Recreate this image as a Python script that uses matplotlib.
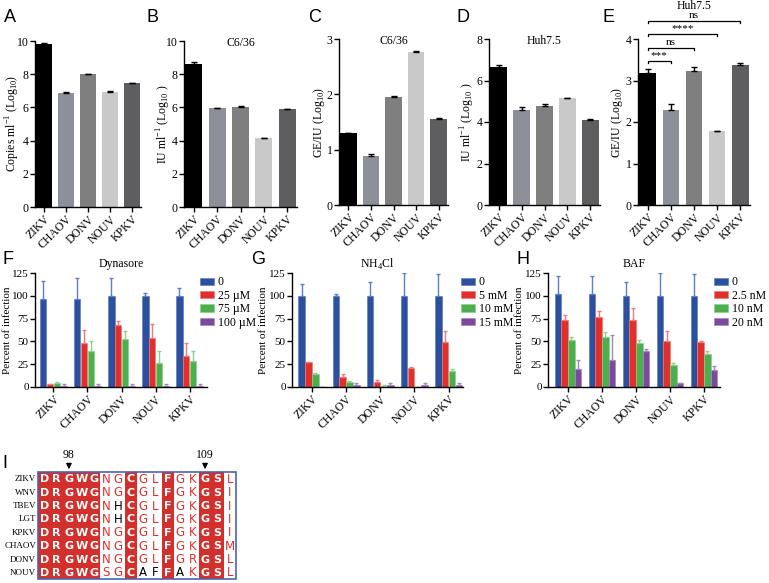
import numpy as np
import matplotlib
matplotlib.use("Agg")
import matplotlib.pyplot as plt
from matplotlib.patches import Rectangle

plt.rcParams['font.family'] = ['Liberation Serif', 'DejaVu Serif']
plt.rcParams['axes.linewidth'] = 1.0
plt.rcParams['xtick.major.width'] = 1.0
plt.rcParams['ytick.major.width'] = 1.0
plt.rcParams['xtick.major.size'] = 3.5
plt.rcParams['ytick.major.size'] = 3.5

# ---- data ----
viruses = ["ZIKV", "CHAOV", "DONV", "NOUV", "KPKV"]
grey_colors = ["#000000", "#8e9099", "#7f7f7f", "#c9c9c9", "#5e5e60"]

# A: RNA copies
copies_val = [9.82, 6.86, 7.99, 6.95, 7.46]
copies_err = [0.05, 0.05, 0.03, 0.04, 0.03]
# B: C6/36 titres
c636_iu_val = [8.63, 5.97, 6.05, 4.17, 5.90]
c636_iu_err = [0.09, 0.02, 0.03, 0.01, 0.01]
# C: C6/36 GE/IU
c636_geiu_val = [1.30, 0.89, 1.95, 2.77, 1.56]
c636_geiu_err = [0.01, 0.03, 0.02, 0.01, 0.01]
# D: Huh7.5 titres
huh_iu_val = [6.65, 4.58, 4.77, 5.15, 4.10]
huh_iu_err = [0.08, 0.12, 0.08, 0.03, 0.04]
# E: Huh7.5 GE/IU
huh_geiu_val = [3.18, 2.30, 3.24, 1.78, 3.38]
huh_geiu_err = [0.09, 0.13, 0.08, 0.01, 0.03]
# E: significance (compare ZIKV vs index, label, bracket height)
sig_pairs = [(1, "***", 3.47), (2, "ns", 3.78), (3, "****", 4.12), (4, "ns", 4.43)]

series_colors = ["#2c4f9e", "#e0302c", "#4cae4c", "#7b4a9c"]
error_colors = ["#5d7fc4", "#ef7a76", "#8fd08f", "#a785c0"]

# F: Dynasore
dyn_labels = ["0", "25 µM", "75 µM", "100 µM"]
dyn_vals = [[97, 97, 100, 100, 100],
            [3, 48, 68, 54, 34],
            [4, 40, 53, 26, 29],
            [1, 1, 1, 1, 1]]
dyn_errs = [[19, 23, 19, 3, 9],
            [0.5, 14, 4, 15, 14],
            [2, 10, 8, 14, 11],
            [2.5, 2.5, 2.5, 2.5, 2.5]]
# G: NH4Cl
nh4_labels = ["0", "5 mM", "10 mM", "15 mM"]
nh4_vals = [[100, 100, 100, 100, 100],
            [27, 11, 6, 21, 49],
            [14, 6, 1.5, 0, 17],
            [0.5, 2, 2, 2, 2]]
nh4_errs = [[13, 2, 15, 25, 24],
            [0.5, 3, 2, 0.5, 12],
            [1.5, 0.5, 0.5, 0, 3],
            [0, 2, 2, 2, 2]]
# H: BAF
baf_labels = ["0", "2.5 nM", "10 nM", "20 nM"]
baf_vals = [[102, 102, 100, 100, 100],
            [74, 77, 74, 50, 49],
            [52, 55, 48, 24, 36],
            [20, 30, 40, 4, 19]]
baf_errs = [[20, 20, 15, 25, 24],
            [5, 6, 13, 11, 1.5],
            [2.5, 5, 3, 2, 3],
            [10, 27, 2, 0.5, 4]]

# I: alignment
align_names = ["ZIKV", "WNV", "TBEV", "LGT", "KPKV", "CHAOV", "DONV", "NOUV"]
align_seqs = ["DRGWGNGCGLFGKGSL",
              "DRGWGNGCGLFGKGSI",
              "DRGWGNHCGLFGKGSI",
              "DRGWGNHCGLFGKGSI",
              "DRGWGNGCGLFGKGSI",
              "DRGWGNGCGLFGKGSM",
              "DRGWGNGCGLFGRGSL",
              "DRGWGSGCAFFAKGSL"]
conserved_cols = [0, 1, 2, 3, 4, 7, 10, 13, 14]
black_cells = [(2, 6), (3, 6), (7, 8), (7, 9), (7, 11)]
arrow_marks = [(2, "98"), (13, "109")]

W, H = 769, 583
fig = plt.figure(figsize=(W / 100, H / 100), dpi=100)


def rect(left, right, top, bottom):
    return [left / W, (H - bottom) / H, (right - left) / W, (bottom - top) / H]


def style(ax):
    for s in ["top", "right"]:
        ax.spines[s].set_visible(False)
    ax.tick_params(labelsize=8.5, pad=1)


def top_panel(r, vals, errs, ymax, ystep, ylabel, lab_off, title=None, title_y=0.99):
    ax = fig.add_axes(r)
    x = np.arange(len(viruses))
    ax.bar(x, vals, width=0.72, color=grey_colors)
    ax.errorbar(x, vals, yerr=[np.zeros(len(vals)), errs], fmt='none',
                ecolor='black', capsize=2.5, elinewidth=1)
    ax.set_xlim(-0.42, 4.42)
    ax.set_ylim(0, ymax)
    ax.set_yticks(np.arange(0, ymax + 0.01, ystep))
    ax.set_xticks(x)
    ax.set_xticklabels(viruses, rotation=45, ha='right', rotation_mode='anchor',
                       fontsize=8.5)
    ax.set_ylabel(ylabel, fontsize=8.5, va='center')
    ax.yaxis.set_label_coords(-lab_off / (r[2] * W), 0.5)
    style(ax)
    if title:
        ax.text(0.5, title_y, title, transform=ax.transAxes, ha='center',
                va='center', fontsize=8.5)
    return ax


top_panel(rect(35, 141, 41, 207), copies_val, copies_err, 10, 2,
          r"Copies ml$^{\mathregular{-1}}$ (Log$_{\mathregular{10}}$)", 22)
top_panel(rect(184, 297, 41, 207), c636_iu_val, c636_iu_err, 10, 2,
          r"IU ml$^{\mathregular{-1}}$ (Log$_{\mathregular{10}}$ )", 20, "C6/36")
top_panel(rect(339, 448, 39, 205), c636_geiu_val, c636_geiu_err, 3, 1,
          r"GE/IU (Log$_{\mathregular{10}}$)", 20, "C6/36")
top_panel(rect(489, 600, 39, 205), huh_iu_val, huh_iu_err, 8, 2,
          r"IU ml$^{\mathregular{-1}}$ (Log$_{\mathregular{10}}$ )", 21, "Huh7.5")
axE = top_panel(rect(638, 750, 39, 205), huh_geiu_val, huh_geiu_err, 4, 1,
                r"GE/IU (Log$_{\mathregular{10}}$)", 21, "Huh7.5", title_y=1.2)
for j, lab, yv in sig_pairs:
    d = 0.05
    axE.plot([0, 0, j, j], [yv - d, yv, yv, yv - d], color='black', lw=0.9,
             clip_on=False)
    axE.text(j / 2, yv + 0.02, lab, ha='center', va='bottom', fontsize=8,
             clip_on=False)


def group_panel(r, vals, errs, labels, title, xlim, leg_x, lab_off):
    ax = fig.add_axes(r)
    x = np.arange(len(viruses))
    offsets = [-0.3, -0.1, 0.1, 0.3]
    handles = []
    for k in range(4):
        b = ax.bar(x + offsets[k], vals[k], width=0.19, color=series_colors[k],
                   edgecolor=error_colors[k], linewidth=0.5, label=labels[k])
        ax.errorbar(x + offsets[k], vals[k],
                    yerr=[np.zeros(len(viruses)), errs[k]], fmt='none',
                    ecolor=error_colors[k], capsize=1.5, elinewidth=1)
        handles.append(b)
    ax.set_xlim(*xlim)
    ax.set_ylim(0, 125)
    ax.set_yticks([0, 25, 50, 75, 100, 125])
    ax.set_xticks(x)
    ax.set_xticklabels(viruses, rotation=45, ha='right', rotation_mode='anchor',
                       fontsize=8.5)
    ax.set_ylabel("Percent of infection", fontsize=8, va='center')
    ax.yaxis.set_label_coords(-lab_off / (r[2] * W), 0.5)
    style(ax)
    ax.tick_params(axis='y', labelsize=8)
    ax.set_title(title, fontsize=8.5, pad=4)
    ax.legend(handles=handles, loc='upper left', bbox_to_anchor=(leg_x, 0.97),
              frameon=False, fontsize=8.5, handlelength=1.2, handleheight=0.6,
              labelspacing=0.12, handletextpad=0.3, borderaxespad=0,
              borderpad=0)
    return ax


group_panel(rect(35, 207, 273, 387), dyn_vals, dyn_errs, dyn_labels,
            "Dynasore", (-0.54, 4.51), 0.96, 28)
group_panel(rect(292, 463, 273, 387), nh4_vals, nh4_errs, nh4_labels,
            r"NH$_{\mathregular{4}}$Cl", (-0.58, 4.42), 0.99, 28)
group_panel(rect(548, 720, 273, 387), baf_vals, baf_errs, baf_labels,
            "BAF", (-0.59, 4.47), 0.965, 28)

# ---- I: alignment ----
axI = fig.add_axes(rect(38, 236, 472, 579))
ncol = len(align_seqs[0])
nrow = len(align_seqs)
axI.set_xlim(0, ncol)
axI.set_ylim(nrow, 0)
axI.axis('off')
red = "#d2302c"
for c in conserved_cols:
    axI.add_patch(Rectangle((c, 0), 1, nrow, facecolor=red, edgecolor='none'))
for i, seq in enumerate(align_seqs):
    for c, ch in enumerate(seq):
        if c in conserved_cols:
            axI.text(c + 0.5, i + 0.55, ch, ha='center', va='center', color='white',
                     fontsize=8, fontweight='bold', family='DejaVu Sans')
        else:
            col = 'black' if (i, c) in black_cells else '#e0302c'
            axI.text(c + 0.5, i + 0.55, ch, ha='center', va='center', color=col,
                     fontsize=8.5, family='DejaVu Sans')
    axI.text(-0.15, i + 0.55, align_names[i], ha='right', va='center',
             fontsize=6.5, clip_on=False)
axI.add_patch(Rectangle((0, 0), ncol, nrow, facecolor='none',
                        edgecolor='#4a64b4', linewidth=1.2, clip_on=False))
for c, lab in arrow_marks:
    axI.annotate("", xy=(c + 0.5, 0), xytext=(c + 0.5, -0.75),
                 arrowprops=dict(arrowstyle='-|>', color='black', lw=0.9,
                                 mutation_scale=8), annotation_clip=False)
    axI.text(c + 0.5, -0.85, lab, ha='center', va='bottom', fontsize=8.5)

# panel letters
for lab, px, py in [("A", 10, 18), ("B", 152, 18), ("C", 315, 18), ("D", 463, 18),
                    ("E", 609, 18), ("F", 8, 260), ("G", 258, 260), ("H", 523, 260),
                    ("I", 5, 463)]:
    fig.text(px / W, 1 - py / H, lab, fontsize=13, ha='center', va='center',
             family=['Liberation Sans', 'DejaVu Sans'])

fig.savefig("out.png", dpi=100)
